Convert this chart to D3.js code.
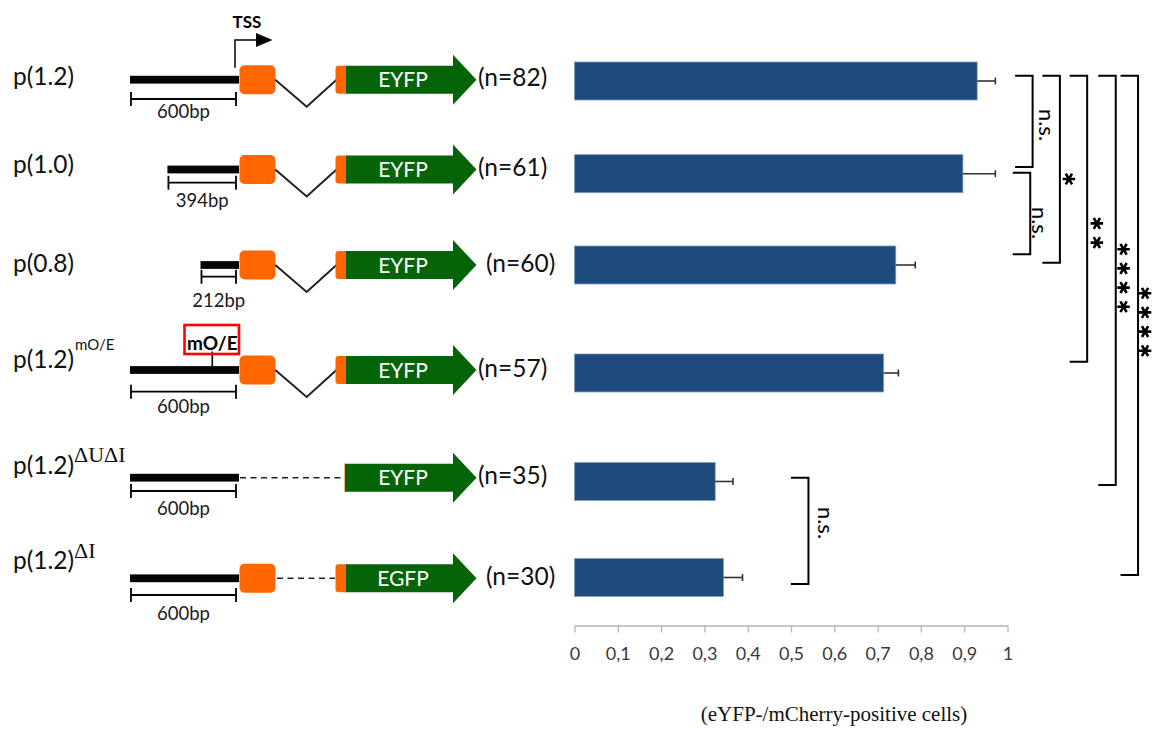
<!DOCTYPE html>
<html>
<head>
<meta charset="utf-8">
<script src="https://cdn.jsdelivr.net/npm/d3@7"></script>
<style>
  html, body { margin: 0; padding: 0; background: #fff; }
  svg { display: block; }
</style>
</head>
<body>
<svg id="chart" width="1155" height="729"></svg>
<script>
// ---------------- DATA ----------------
const categories   = ["p(1.2)", "p(1.0)", "p(0.8)", "p(1.2)mO/E", "p(1.2)ΔUΔI", "p(1.2)ΔI"];
const labelMain    = ["p(1.2)", "p(1.0)", "p(0.8)", "p(1.2)", "p(1.2)", "p(1.2)"];
const labelSup     = ["", "", "", "mO/E", "ΔUΔI", "ΔI"];
const promoterBp   = [600, 394, 212, 600, 600, 600];
const bpLabels     = ["600bp", "394bp", "212bp", "600bp", "600bp", "600bp"];
const reporters    = ["EYFP", "EYFP", "EYFP", "EYFP", "EYFP", "EGFP"];
const hasExon1     = [true, true, true, true, false, true];
const hasIntron    = [true, true, true, true, false, false];
const nCells       = [82, 61, 60, 57, 35, 30];
const ratioValues  = [0.930, 0.897, 0.742, 0.714, 0.325, 0.344];
const ratioErrors  = [0.042, 0.075, 0.045, 0.034, 0.041, 0.044];
const xTickValues  = [0, 0.1, 0.2, 0.3, 0.4, 0.5, 0.6, 0.7, 0.8, 0.9, 1];
const xTickLabels  = ["0", "0,1", "0,2", "0,3", "0,4", "0,5", "0,6", "0,7", "0,8", "0,9", "1"];
const compFrom     = [0, 1, 0, 0, 0, 0, 4];
const compTo       = [1, 2, 2, 3, 4, 5, 5];
const compLabels   = ["n.s.", "n.s.", "*", "**", "****", "****", "n.s."];
const axisTitle    = "(eYFP-/mCherry-positive cells)";
const mutationBp   = 147;

// ---------------- LAYOUT ----------------
const barRowY       = [81, 173.7, 265, 373, 481.5, 577.5];
const constructRowY = [79.7, 169.5, 265, 370, 477.7, 578.3];
const labelDy   = [4.8, 3.5, 6.5, -2, -4, -9];
const supDy     = [0, 0, 0, -20, -16, -20];
const scaleDy   = [19.3, 13.2, 11.7, 21.7, 13.3, 16.7];
const bpTextDy  = [38, 37, 41.7, 43, 37, 42];
const nTextX    = [478, 478, 486, 478, 478, 486];
// brackets: vertical position (in data units of x), top/bottom offsets from bar rows, label position
const brX       = [1.058, 1.0525, 1.121, 1.184, 1.250, 1.3015, 0.5403];
const brTopDy   = [-5.3, -1, -5.3, -5.3, -5.3, -5.3, -3.8];
const brBotDy   = [-6.7, -10.8, -2.3, -11.3, 3.5, -2.5, 6.5];
const brLabelY  = [125, 223, 179, 233, 278, 322, 523];

const FONT = "Lato, 'Open Sans', sans-serif";
const SERIF = "'Liberation Serif', 'DejaVu Serif', serif";
const GREEN = "#066408";
const ORANGE = "#ff6600";
const BLUE = "#1f4a7c";

const svg = d3.select("#chart");

const x = d3.scaleLinear().domain([0, 1]).range([574.5, 1007.5]);
const yBar = d3.scaleOrdinal().domain(categories).range(barRowY);
const yCon = d3.scaleOrdinal().domain(categories).range(constructRowY);
const bpScale = d3.scaleLinear().domain([0, 600]).range([239, 130]);

// ---------------- BARS ----------------
const barH = 38;
const gBars = svg.append("g");
gBars.selectAll("rect.bar").data(categories).join("rect")
  .attr("class", "bar")
  .attr("x", x(0))
  .attr("y", d => yBar(d) - barH / 2)
  .attr("width", (d, i) => x(ratioValues[i]) - x(0))
  .attr("height", barH)
  .attr("fill", BLUE)
  .attr("stroke", "#7f9cc4")
  .attr("stroke-width", 0.8);

// error bars
const gErr = svg.append("g").attr("stroke", "#333").attr("stroke-width", 1.6);
categories.forEach((c, i) => {
  const yy = yBar(c);
  const x1 = x(ratioValues[i]), x2 = x(ratioValues[i] + ratioErrors[i]);
  gErr.append("line").attr("x1", x1).attr("x2", x2).attr("y1", yy).attr("y2", yy);
  gErr.append("line").attr("x1", x2).attr("x2", x2).attr("y1", yy - 3.5).attr("y2", yy + 3.5);
});

// ---------------- AXIS ----------------
const axis = d3.axisBottom(x)
  .tickValues(xTickValues)
  .tickFormat((d, i) => xTickLabels[i])
  .tickSize(7)
  .tickSizeOuter(0)
  .tickPadding(15);
const gAxis = svg.append("g").attr("transform", "translate(0,625.5)").call(axis);
gAxis.select(".domain").attr("stroke", "#b5b5b5").attr("stroke-width", 1.3);
gAxis.selectAll(".tick line").attr("stroke", "#b5b5b5").attr("stroke-width", 1.3);
gAxis.selectAll(".tick text").attr("fill", "#3a3a3a").style("font-family", FONT).style("font-size", "18px");

svg.append("text")
  .attr("x", 834).attr("y", 721)
  .attr("text-anchor", "middle")
  .style("font-family", SERIF).style("font-size", "21px")
  .attr("fill", "#111")
  .text(axisTitle);

// ---------------- BRACKETS ----------------
const gBr = svg.append("g");
const armLen = 17.5;
const star = d3.symbol().type(d3.symbolAsterisk).size(110);
compLabels.forEach((lab, k) => {
  const xv = x(brX[k]);
  const yt = yBar(categories[compFrom[k]]) + brTopDy[k];
  const yb = yBar(categories[compTo[k]]) + brBotDy[k];
  gBr.append("path")
    .attr("d", `M${xv - armLen},${yt}H${xv}V${yb}H${xv - armLen}`)
    .attr("fill", "none").attr("stroke", "#000").attr("stroke-width", 2);
  if (lab === "n.s.") {
    const cx = xv + (k === 1 ? 7 : (k === 6 ? 15 : 12.3));
    gBr.append("text")
      .attr("transform", `translate(${cx - 5.5},${brLabelY[k]}) rotate(90)`)
      .attr("text-anchor", "middle")
      .style("font-family", FONT).style("font-size", "22px")
      .attr("fill", "#000")
      .text(lab);
  } else {
    const nStar = lab.length;
    const sp = 19.2;
    const cx = xv + (k === 2 ? 9 : (k === 3 ? 9.7 : (k === 4 ? 7.8 : 7)));
    for (let s = 0; s < nStar; s++) {
      const cy = brLabelY[k] + (s - (nStar - 1) / 2) * sp;
      gBr.append("path")
        .attr("d", star())
        .attr("transform", `translate(${cx},${cy}) rotate(90)`)
        .attr("fill", "none").attr("stroke", "#000").attr("stroke-width", 2.6);
    }
  }
});

// ---------------- CONSTRUCTS ----------------
const gC = svg.append("g");
categories.forEach((c, i) => {
  const yc = yCon(c);
  // label
  const t = gC.append("text")
    .attr("x", 13).attr("y", yc + labelDy[i])
    .style("font-family", FONT).style("font-size", "24.5px")
    .attr("fill", "#111")
    .text(labelMain[i]);
  if (labelSup[i]) {
    const w = t.node().getComputedTextLength();
    const serif = labelSup[i].indexOf("Δ") >= 0;
    gC.append("text")
      .attr("x", 13 + w + (serif ? 0 : 1))
      .attr("y", yc + supDy[i])
      .style("font-family", serif ? SERIF : FONT)
      .style("font-size", serif ? "22px" : "15px")
      .attr("fill", "#111")
      .text(labelSup[i]);
  }
  // promoter line
  const px = bpScale(promoterBp[i]);
  gC.append("rect")
    .attr("x", px).attr("y", yc - 3.9)
    .attr("width", bpScale(0) - px).attr("height", 7.8)
    .attr("fill", "#050505");
  // scale bar
  const sy = yc + scaleDy[i];
  const sx2 = bpScale(0) - 3;
  gC.append("path")
    .attr("d", `M${px + 1},${sy - 7}V${sy + 7}M${px + 1},${sy}H${sx2}M${sx2},${sy - 7}V${sy + 7}`)
    .attr("fill", "none").attr("stroke", "#000").attr("stroke-width", 1.8);
  gC.append("text")
    .attr("x", (px + 1 + sx2) / 2).attr("y", yc + bpTextDy[i])
    .attr("text-anchor", "middle")
    .style("font-family", FONT).style("font-size", "18.5px")
    .attr("fill", "#1a1a1a")
    .text(bpLabels[i]);

  // exon 1 (orange box)
  if (hasExon1[i]) {
    gC.append("rect")
      .attr("x", 239.5).attr("y", yc - 14.5)
      .attr("width", 36).attr("height", 29).attr("rx", 5)
      .attr("fill", ORANGE);
  }
  // intron / deletion
  if (hasIntron[i]) {
    gC.append("path")
      .attr("d", `M275.3,${yc}L306.7,${yc + 27}L336.5,${yc}`)
      .attr("fill", "none").attr("stroke", "#222").attr("stroke-width", 2);
  } else if (hasExon1[i]) {
    gC.append("line").attr("x1", 277).attr("x2", 335).attr("y1", yc).attr("y2", yc)
      .attr("stroke", "#222").attr("stroke-width", 1.6).attr("stroke-dasharray", "6,4.5");
  } else {
    gC.append("line").attr("x1", 240).attr("x2", 345).attr("y1", yc).attr("y2", yc)
      .attr("stroke", "#222").attr("stroke-width", 1.6).attr("stroke-dasharray", "6,4.5");
  }
  // exon 2 + reporter arrow
  const bodyX0 = hasIntron[i] || hasExon1[i] ? 346 : 345;
  if (hasIntron[i] || hasExon1[i]) {
    gC.append("rect")
      .attr("x", 335.5).attr("y", yc - 14)
      .attr("width", 14).attr("height", 28).attr("rx", 3)
      .attr("fill", ORANGE);
  } else {
    gC.append("rect").attr("x", 344.5).attr("y", yc - 14).attr("width", 1.6).attr("height", 28)
      .attr("fill", ORANGE);
  }
  const hb = 453, tip = 476.5;
  gC.append("path")
    .attr("d", `M${bodyX0},${yc - 14}H${hb}V${yc - 25}L${tip},${yc}L${hb},${yc + 25}V${yc + 14}H${bodyX0}Z`)
    .attr("fill", GREEN);
  gC.append("text")
    .attr("x", 403).attr("y", yc + 7.5)
    .attr("text-anchor", "middle")
    .style("font-family", FONT).style("font-size", "21px")
    .attr("fill", "#fff")
    .text(reporters[i]);
  // n
  gC.append("text")
    .attr("x", nTextX[i]).attr("y", yc + 6.5)
    .style("font-family", FONT).style("font-size", "24.5px")
    .attr("fill", "#111")
    .text(`(n=${nCells[i]})`);

  // TSS on first construct
  if (i === 0) {
    const tx = bpScale(0) - 4;
    gC.append("path")
      .attr("d", `M${tx},${yc - 12}V40H257`)
      .attr("fill", "none").attr("stroke", "#000").attr("stroke-width", 1.5);
    gC.append("path").attr("d", "M256,33L272.5,40L256,47Z").attr("fill", "#000");
    gC.append("text")
      .attr("x", 247).attr("y", 28)
      .attr("text-anchor", "middle")
      .style("font-family", FONT).style("font-size", "17px").style("font-weight", "bold")
      .attr("fill", "#000")
      .text("TSS");
  }
  // mutation marker
  if (labelSup[i] === "mO/E") {
    const mx = bpScale(mutationBp);
    gC.append("line").attr("x1", mx).attr("x2", mx).attr("y1", yc - 3).attr("y2", yc - 18.5)
      .attr("stroke", "#000").attr("stroke-width", 1.6);
    gC.append("rect").attr("x", 184.5).attr("y", yc - 45).attr("width", 54.5).attr("height", 29)
      .attr("fill", "none").attr("stroke", "#ff0000").attr("stroke-width", 2.6);
    gC.append("text")
      .attr("x", mx).attr("y", yc - 20)
      .attr("text-anchor", "middle")
      .style("font-family", FONT).style("font-size", "19px").style("font-weight", "bold")
      .attr("fill", "#000")
      .text("mO/E");
  }
});
</script>
</body>
</html>
